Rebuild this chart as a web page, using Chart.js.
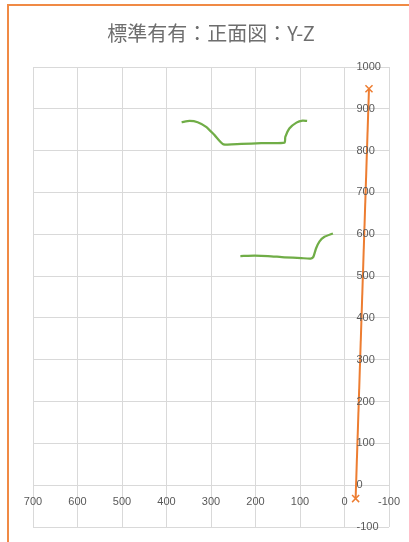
<!DOCTYPE html>
<html>
<head>
<meta charset="utf-8">
<script src="https://cdn.jsdelivr.net/npm/chart.js@4"></script>
<style>
  html, body { margin: 0; padding: 0; background: #fff; overflow: hidden; }
  #wrap { position: relative; width: 409px; height: 542px; }
  #frame {
    position: absolute; left: 7px; top: 4px; width: 420px; height: 560px;
    border-left: 2px solid #F08A45; border-top: 2px solid #F08A45;
    pointer-events: none;
  }
</style>
</head>
<body>
<div id="wrap">
  <canvas id="chart" width="409" height="542"></canvas>
  <div id="frame"></div>
</div>
<script>
// タイトルと目盛り
const chartTitle = "標準有有：正面図：Y-Z";
const xTickValues = [700, 600, 500, 400, 300, 200, 100, 0, -100];
const yTickValues = [1000, 900, 800, 700, 600, 500, 400, 300, 200, 100, 0, -100];

// 上側の曲線 (緑)
const upperX = [366, 348, 330, 311, 292, 272, 232, 187, 135, 133, 124, 108, 94, 84];
const upperY = [868, 871, 868, 857, 837, 815, 816, 818, 819, 833, 853, 867, 872, 871];

// 下側の曲線 (緑)
const lowerX = [234, 202, 172, 135, 97, 76, 70, 64, 56, 45, 26];
const lowerY = [548, 549, 548, 545, 543, 542, 546, 566, 583, 594, 602];

// Z軸 (橙)
const axisX = [-25, -55];
const axisY = [-32, 948];

const toPoints = (xs, ys) => xs.map((x, i) => ({ x: x, y: ys[i] }));

// 目盛りラベルを軸の交点に描く
const tickLabels = {
  id: "tickLabels",
  afterDraw(chart) {
    const { ctx, scales: { x, y } } = chart;
    const x0 = x.getPixelForValue(0);
    const y0 = y.getPixelForValue(0);
    ctx.save();
    ctx.fillStyle = "#595959";
    ctx.font = "11px 'Liberation Sans', sans-serif";
    ctx.textAlign = "center";
    ctx.textBaseline = "middle";
    xTickValues.forEach((v) => ctx.fillText(String(v), x.getPixelForValue(v), y0 + 17));
    ctx.textAlign = "left";
    yTickValues.forEach((v) => ctx.fillText(String(v), x0 + 12, y.getPixelForValue(v)));
    ctx.restore();
  },
};

new Chart(document.getElementById("chart"), {
  type: "scatter",
  data: {
    datasets: [
      {
        data: toPoints(upperX, upperY),
        showLine: true,
        borderColor: "#70AD47",
        borderWidth: 2.25,
        pointRadius: 0,
        tension: 0.2,
      },
      {
        data: toPoints(lowerX, lowerY),
        showLine: true,
        borderColor: "#70AD47",
        borderWidth: 2.25,
        pointRadius: 0,
        tension: 0.2,
      },
      {
        data: toPoints(axisX, axisY),
        showLine: true,
        borderColor: "#ED7D31",
        borderWidth: 2,
        pointStyle: "crossRot",
        pointRadius: 5,
        pointBorderWidth: 1.5,
        pointBorderColor: "#ED7D31",
      },
    ],
  },
  options: {
    responsive: false,
    animation: false,
    layout: { padding: { left: 33, right: 20, top: 0, bottom: 15 } },
    plugins: {
      legend: { display: false },
      tooltip: { enabled: false },
      title: {
        display: true,
        text: chartTitle,
        color: "#6E6E6E",
        font: { size: 20, family: "'Noto Sans CJK JP', sans-serif", weight: "normal" },
        padding: { top: 21, bottom: 22 },
      },
    },
    scales: {
      x: {
        type: "linear",
        min: -100,
        max: 700,
        reverse: true,
        ticks: { display: false, stepSize: 100 },
        grid: { color: "#D9D9D9", drawTicks: false },
        border: { display: false },
      },
      y: {
        type: "linear",
        min: -100,
        max: 1000,
        ticks: { display: false, stepSize: 100 },
        grid: { color: "#D9D9D9", drawTicks: false },
        border: { display: false },
      },
    },
  },
  plugins: [tickLabels],
});
</script>
</body>
</html>
